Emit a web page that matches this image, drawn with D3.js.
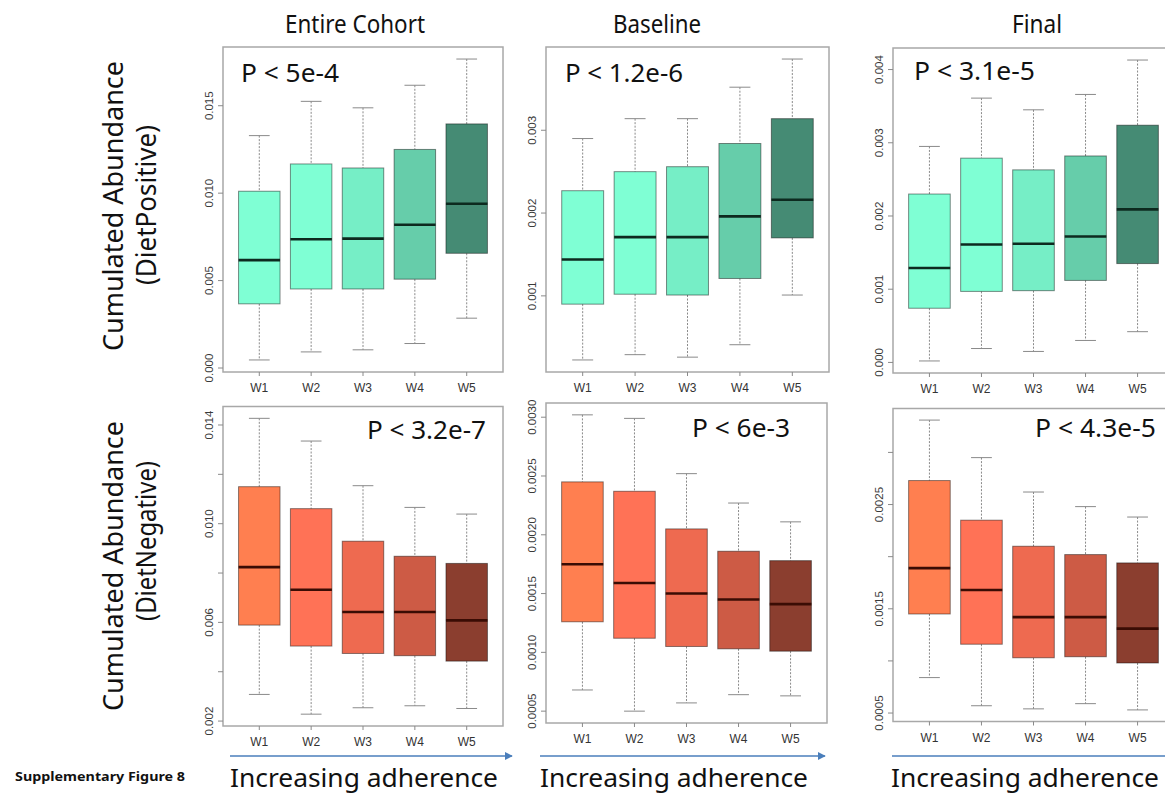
<!doctype html>
<html lang="en">
<head>
<meta charset="utf-8">
<title>Supplementary Figure 8</title>
<style>
  body { margin: 0; background: #fff; }
  svg { display: block; }
  .big { font-family: "Noto Sans", sans-serif; fill: #111; }
  .tick-label { font-family: "Liberation Sans", Arial, sans-serif; font-size: 11.5px; fill: #3a3a3a; }
  .cat-label { font-family: "Liberation Sans", Arial, sans-serif; font-size: 12px; fill: #333; }
  .frame { fill: none; stroke: #a8a8a8; stroke-width: 1.5; }
  .whisker { stroke: #8a8a8a; stroke-width: 1; stroke-dasharray: 2,1.5; }
  .cap, .tick { stroke: #8a8a8a; stroke-width: 1; }
  .box { stroke: rgba(0,0,0,0.45); stroke-width: 1; }
  .median { stroke-width: 2.6; }
</style>
</head>
<body>
<script src="https://d3js.org/d3.v7.min.js"></script>
<script>
  const categories = ["W1", "W2", "W3", "W4", "W5"];
  const columnTitles = ["Entire Cohort", "Baseline", "Final"];
  const rowTitles = ["(DietPositive)", "(DietNegative)"];
  const pValues = ["P < 5e-4", "P < 1.2e-6", "P < 3.1e-5", "P < 3.2e-7", "P < 6e-3", "P < 4.3e-5"];

  // each box: [lower whisker, Q1, median, Q3, upper whisker]
  const entirePos = [
    [0.00046, 0.00367, 0.00617, 0.01011, 0.01329],
    [0.00092, 0.00452, 0.00736, 0.01167, 0.01525],
    [0.00104, 0.00452, 0.00740, 0.01144, 0.01488],
    [0.00140, 0.00508, 0.00819, 0.01250, 0.01617],
    [0.00285, 0.00656, 0.00939, 0.01396, 0.01767]
  ];
  const baselinePos = [
    [0.000226, 0.00090, 0.00144, 0.00227, 0.00290],
    [0.00029, 0.00102, 0.00171, 0.00250, 0.00314],
    [0.00026, 0.00101, 0.00171, 0.00256, 0.00314],
    [0.00041, 0.00121, 0.00196, 0.00284, 0.00352],
    [0.00101, 0.00170, 0.00216, 0.00314, 0.00386]
  ];
  const finalPos = [
    [0.00002, 0.00074, 0.00129, 0.00230, 0.00295],
    [0.00019, 0.00097, 0.00161, 0.00279, 0.00361],
    [0.00015, 0.00098, 0.00162, 0.00263, 0.00345],
    [0.00030, 0.00112, 0.00172, 0.00282, 0.00366],
    [0.00042, 0.00135, 0.00209, 0.00324, 0.00413]
  ];
  const entireNeg = [
    [0.00308, 0.00589, 0.00824, 0.01150, 0.01427],
    [0.00228, 0.00504, 0.00732, 0.01061, 0.01335],
    [0.00254, 0.00474, 0.00642, 0.00929, 0.01154],
    [0.00262, 0.00465, 0.00642, 0.00868, 0.01066],
    [0.00251, 0.00443, 0.00608, 0.00839, 0.01039]
  ];
  const baselineNeg = [
    [0.00068, 0.00126, 0.00175, 0.00245, 0.00302],
    [0.00050, 0.00112, 0.00159, 0.00237, 0.00299],
    [0.00057, 0.00105, 0.00150, 0.00205, 0.00252],
    [0.00064, 0.00103, 0.00145, 0.00186, 0.00227],
    [0.00063, 0.00101, 0.00141, 0.00178, 0.00211]
  ];
  const finalNeg = [
    [0.00084, 0.00145, 0.00189, 0.00273, 0.00331],
    [0.00057, 0.00116, 0.00168, 0.00235, 0.00295],
    [0.00054, 0.00103, 0.00142, 0.00210, 0.00262],
    [0.00059, 0.00104, 0.00142, 0.00202, 0.00248],
    [0.00053, 0.00098, 0.00131, 0.00194, 0.00238]
  ];

  const ticksEntirePos = [0, 0.005, 0.010, 0.015];
  const ticksBaselinePos = [0.001, 0.002, 0.003];
  const ticksFinalPos = [0, 0.001, 0.002, 0.003, 0.004];
  const ticksEntireNeg = [0.002, 0.004, 0.006, 0.008, 0.010, 0.012, 0.014];
  const labelsEntireNeg = [0.002, 0.006, 0.010, 0.014];
  const ticksBaselineNeg = [0.0005, 0.0010, 0.0015, 0.0020, 0.0025, 0.0030];
  const ticksFinalNeg = [0.0005, 0.0010, 0.0015, 0.0020, 0.0025, 0.0030];
  const labelsFinalNeg = [0.0005, 0.0015, 0.0025];

  const posColors = ["#7fffd4", "#7fffd4", "#76eec6", "#66cdaa", "#458b74"];
  const negColors = ["#ff7f50", "#ff7256", "#ee6a50", "#cd5b45", "#8b3e2f"];
  const medianColors = ["#0d2a1f", "#3a0c04"];

  const panels = [
    { stats: entirePos, ticks: ticksEntirePos, labels: ticksEntirePos, fmt: ".3f", row: 0,
      frame: [223, 47, 280, 325], p: [241, 82, 98] },
    { stats: baselinePos, ticks: ticksBaselinePos, labels: ticksBaselinePos, fmt: ".3f", row: 0,
      frame: [546, 47, 283, 325], p: [565, 82, 118] },
    { stats: finalPos, ticks: ticksFinalPos, labels: ticksFinalPos, fmt: ".3f", row: 0,
      frame: [893, 48, 281, 325], p: [914, 80, 121] },
    { stats: entireNeg, ticks: ticksEntireNeg, labels: labelsEntireNeg, fmt: ".3f", row: 1,
      frame: [223, 406.5, 280, 319.5], p: [367, 439, 119] },
    { stats: baselineNeg, ticks: ticksBaselineNeg, labels: ticksBaselineNeg, fmt: ".4f", row: 1,
      frame: [546, 403, 281, 320], p: [692, 437, 98] },
    { stats: finalNeg, ticks: ticksFinalNeg, labels: labelsFinalNeg, fmt: ".4f", row: 1,
      frame: [893, 408.5, 281, 313], p: [1035, 437, 121] }
  ];

  const width = 1165, height = 796;
  const svg = d3.select("body").append("svg")
    .attr("width", width)
    .attr("height", height);

  const defs = svg.append("defs");
  defs.append("marker")
    .attr("id", "arrow")
    .attr("viewBox", "0 0 10 10")
    .attr("refX", 9).attr("refY", 5)
    .attr("markerWidth", 5).attr("markerHeight", 5)
    .attr("orient", "auto")
    .append("path")
    .attr("d", "M0,0 L10,5 L0,10 z")
    .attr("fill", "#4a7ebb");

  panels.forEach(function (panel, i) {
    const [fx, fy, fw, fh] = panel.frame;
    const g = svg.append("g").attr("class", "panel");

    // R style: 4% padding on both sides
    const lo = d3.min(panel.stats, d => d[0]);
    const hi = d3.max(panel.stats, d => d[4]);
    const pad = (hi - lo) * 0.04;
    const y = d3.scaleLinear().domain([lo - pad, hi + pad]).range([fy + fh, fy]);
    const x = d3.scaleLinear().domain([0.3, categories.length + 0.7]).range([fx, fx + fw]);
    const boxW = x(0.8) - x(0);
    const colors = panel.row === 0 ? posColors : negColors;

    const boxes = g.selectAll("g.box-group")
      .data(panel.stats)
      .enter().append("g")
      .attr("class", "box-group");

    boxes.append("line").attr("class", "whisker")
      .attr("x1", (d, j) => x(j + 1)).attr("x2", (d, j) => x(j + 1))
      .attr("y1", d => y(d[4])).attr("y2", d => y(d[3]));
    boxes.append("line").attr("class", "whisker")
      .attr("x1", (d, j) => x(j + 1)).attr("x2", (d, j) => x(j + 1))
      .attr("y1", d => y(d[1])).attr("y2", d => y(d[0]));
    [0, 4].forEach(function (k) {
      boxes.append("line").attr("class", "cap")
        .attr("x1", (d, j) => x(j + 1) - boxW / 4).attr("x2", (d, j) => x(j + 1) + boxW / 4)
        .attr("y1", d => y(d[k])).attr("y2", d => y(d[k]));
    });
    boxes.append("rect").attr("class", "box")
      .attr("x", (d, j) => x(j + 1) - boxW / 2)
      .attr("width", boxW)
      .attr("y", d => y(d[3]))
      .attr("height", d => y(d[1]) - y(d[3]))
      .attr("fill", (d, j) => colors[j]);
    boxes.append("line").attr("class", "median")
      .attr("stroke", medianColors[panel.row])
      .attr("x1", (d, j) => x(j + 1) - boxW / 2).attr("x2", (d, j) => x(j + 1) + boxW / 2)
      .attr("y1", d => y(d[2])).attr("y2", d => y(d[2]));

    // frame
    g.append("rect").attr("class", "frame")
      .attr("x", fx).attr("y", fy).attr("width", fw).attr("height", fh);

    // y ticks
    g.selectAll("line.tick.y").data(panel.ticks).enter().append("line")
      .attr("class", "tick y")
      .attr("x1", fx - 5).attr("x2", fx)
      .attr("y1", d => y(d)).attr("y2", d => y(d));
    const fmt = d3.format(panel.fmt);
    g.selectAll("text.tick-label").data(panel.labels).enter().append("text")
      .attr("class", "tick-label")
      .attr("text-anchor", "middle")
      .attr("transform", d => `translate(${fx - 10},${y(d)}) rotate(-90)`)
      .text(d => fmt(d));

    // x ticks and labels
    g.selectAll("line.tick.x").data(categories).enter().append("line")
      .attr("class", "tick x")
      .attr("x1", (d, j) => x(j + 1)).attr("x2", (d, j) => x(j + 1))
      .attr("y1", fy + fh).attr("y2", fy + fh + 4);
    g.selectAll("text.cat-label").data(categories).enter().append("text")
      .attr("class", "cat-label")
      .attr("text-anchor", "middle")
      .attr("x", (d, j) => x(j + 1))
      .attr("y", fy + fh + 20)
      .text(d => d);

    // p value
    g.append("text").attr("class", "big")
      .attr("x", panel.p[0]).attr("y", panel.p[1])
      .attr("font-size", 26)
      .attr("textLength", panel.p[2])
      .attr("lengthAdjust", "spacingAndGlyphs")
      .text(pValues[i]);
  });

  // column titles
  const titlePos = [[355, 140], [657, 88], [1037, 50]];
  svg.selectAll("text.col-title").data(columnTitles).enter().append("text")
    .attr("class", "big col-title")
    .attr("text-anchor", "middle")
    .attr("font-size", 25)
    .attr("x", (d, i) => titlePos[i][0])
    .attr("y", 33)
    .attr("textLength", (d, i) => titlePos[i][1])
    .attr("lengthAdjust", "spacingAndGlyphs")
    .text(d => d);

  // row titles
  const rowCenters = [206, 566];
  const rowSub = [205, 541];
  rowTitles.forEach(function (t, r) {
    svg.append("text").attr("class", "big")
      .attr("text-anchor", "middle")
      .attr("font-size", 28)
      .attr("textLength", 290)
      .attr("lengthAdjust", "spacingAndGlyphs")
      .attr("transform", `translate(123,${rowCenters[r]}) rotate(-90)`)
      .text("Cumulated Abundance");
    svg.append("text").attr("class", "big")
      .attr("text-anchor", "middle")
      .attr("font-size", 28)
      .attr("textLength", 160)
      .attr("lengthAdjust", "spacingAndGlyphs")
      .attr("transform", `translate(156,${rowSub[r]}) rotate(-90)`)
      .text(t);
  });

  // adherence arrows
  const arrows = [[230, 512, 364], [540, 825, 674], [892, 1172, 1025]];
  arrows.forEach(function (a) {
    svg.append("line")
      .attr("x1", a[0]).attr("x2", a[1])
      .attr("y1", 756).attr("y2", 756)
      .attr("stroke", "#4a7ebb").attr("stroke-width", 1.6)
      .attr("marker-end", "url(#arrow)");
    svg.append("text").attr("class", "big")
      .attr("text-anchor", "middle")
      .attr("font-size", 26)
      .attr("x", a[2]).attr("y", 787)
      .attr("textLength", 268)
      .attr("lengthAdjust", "spacingAndGlyphs")
      .text("Increasing adherence");
  });

  svg.append("text").attr("class", "big")
    .attr("x", 15).attr("y", 781)
    .attr("font-size", 13)
    .attr("font-weight", "bold")
    .attr("textLength", 170)
    .attr("lengthAdjust", "spacingAndGlyphs")
    .text("Supplementary Figure 8");
</script>
</body>
</html>
